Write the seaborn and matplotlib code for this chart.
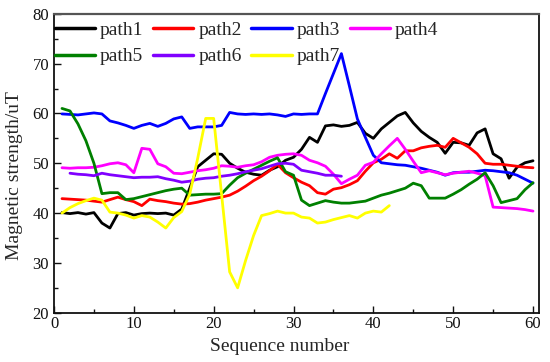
import matplotlib
matplotlib.use("Agg")
import matplotlib.pyplot as plt
import numpy as np
import pandas as pd
import seaborn as sns
from matplotlib.ticker import MultipleLocator

path1 = [40.1, 39.9, 40.1, 39.8, 40.1, 38.0, 37.0, 39.9, 40.1, 39.6,
         39.9, 40.0, 39.9, 40.0, 39.6, 40.8, 45.0, 49.3, 50.6, 51.9,
         51.8, 50.0, 49.0, 48.2, 47.8, 47.6, 48.6, 49.3, 50.6, 51.2,
         52.8, 55.2, 54.2, 57.5, 57.7, 57.4, 57.6, 58.2, 56.0, 55.0,
         56.9, 58.2, 59.5, 60.2, 58.1, 56.4, 55.2, 54.2, 52.0, 54.2,
         54.1, 53.6, 56.1, 56.9, 51.9, 50.9, 47.0, 49.2, 50.1, 50.5]
path2 = [42.9, 42.8, 42.7, 42.6, 42.4, 42.2, 42.7, 43.2, 42.7, 42.3,
         41.5, 42.8, 42.5, 42.3, 42.0, 41.8, 41.9, 42.2, 42.6, 42.9,
         43.2, 43.6, 44.4, 45.4, 46.5, 47.4, 48.5, 49.8, 48.1, 47.1,
         46.2, 45.5, 44.1, 43.8, 44.8, 45.1, 45.7, 46.5, 48.4, 50.1,
         50.8, 51.9, 51.0, 52.5, 52.5, 53.1, 53.4, 53.6, 53.2, 55.0,
         54.1, 53.2, 51.9, 50.0, 49.8, 49.8, 49.6, 49.4, 49.2, 49.1]
path3 = [59.9, 59.8, 59.7, 59.9, 60.1, 59.9, 58.5, 58.1, 57.6, 57.0,
         57.6, 58.0, 57.4, 58.0, 58.9, 59.3, 57.0, 57.3, 57.3, 57.3,
         57.6, 60.2, 59.9, 59.8, 59.9, 59.8, 59.9, 59.7, 59.4, 59.9,
         59.8, 59.9, 59.9, 64.0, 68.0, 72.0, 65.5, 58.9, 55.2, 51.6,
         50.1, 49.9, 49.7, 49.6, 49.3, 49.0, 48.6, 48.2, 47.6, 48.1,
         48.2, 48.2, 48.4, 48.6, 48.5, 48.3, 48.1, 47.6, 46.8, 46.0]
path4 = [49.1, 49.0, 49.1, 49.1, 49.2, 49.5, 49.9, 50.1, 49.7, 48.1,
         53.0, 52.8, 49.9, 49.3, 48.0, 47.9, 48.2, 48.5, 48.7, 49.0,
         49.5, 49.4, 49.2, 49.5, 49.7, 50.3, 51.2, 51.6, 51.8, 51.9,
         51.6, 50.6, 50.1, 49.4, 47.8, 45.9, 46.8, 47.6, 49.6, 50.2,
         51.9, 53.5, 55.0, 52.8, 50.4, 48.1, 48.5, 48.1, 47.7, 48.0,
         48.2, 48.4, 48.0, 47.5, 41.2, 41.1, 41.0, 40.9, 40.7, 40.4]
path5 = [61.0, 60.5, 57.9, 54.5, 50.0, 43.9, 44.1, 44.1, 42.7, 42.9,
         43.3, 43.7, 44.1, 44.5, 44.8, 45.0, 43.6, 43.7, 43.8, 43.8,
         43.9, 45.6, 47.1, 48.0, 48.8, 49.6, 50.4, 51.1, 48.3, 47.6,
         42.6, 41.5, 42.0, 42.5, 42.2, 42.0, 42.0, 42.2, 42.4, 43.0,
         43.6, 44.0, 44.5, 45.0, 46.0, 45.5, 43.0, 43.0, 43.0, 43.8,
         44.7, 45.8, 46.8, 48.1, 45.5, 42.1, 42.5, 42.9, 44.7, 46.1]
# path6 starts at sequence 2
path6 = [48.0, 47.8, 47.7, 47.5, 48.0, 47.7, 47.5, 47.3, 47.1,
         47.2, 47.2, 47.3, 46.9, 46.6, 46.2, 46.4, 46.8, 47.0, 47.1,
         47.4, 47.6, 47.9, 48.3, 48.6, 48.9, 49.4, 49.9, 50.0, 49.8,
         48.6, 48.3, 48.0, 47.6, 47.6, 47.4]
path7 = [40.0, 41.1, 41.9, 42.5, 43.0, 42.6, 40.2, 40.0, 39.6, 39.0,
         39.5, 39.2, 38.2, 37.0, 39.1, 40.3, 43.8, 51.0, 59.0, 59.0,
         43.6, 28.2, 25.0, 30.5, 35.5, 39.5, 39.9, 40.4, 40.0, 40.0,
         39.2, 39.0, 38.0, 38.2, 38.7, 39.1, 39.5, 39.0, 40.0, 40.4,
         40.2, 41.5]

names = ["path1", "path2", "path3", "path4", "path5", "path6", "path7"]
starts = [1, 1, 1, 1, 1, 2, 1]
colors = ["#000000", "#ff0000", "#0000ff", "#ff00ff", "#008000", "#8000ff", "#ffff00"]

frames = []
for name, start, vals in zip(names, starts, [path1, path2, path3, path4, path5, path6, path7]):
    frames.append(pd.DataFrame({"seq": np.arange(start, start + len(vals)),
                                "value": vals, "path": name}))
df = pd.concat(frames, ignore_index=True)

sns.set_style("ticks")
plt.rcParams["font.family"] = ["Liberation Serif", "DejaVu Serif"]

fig = plt.figure(figsize=(5.5, 3.62), dpi=100)
ax = fig.add_axes([0.0982, 0.136, 0.8818, 0.826])

sns.lineplot(data=df, x="seq", y="value", hue="path", hue_order=names,
             palette=colors, linewidth=2.0, ax=ax, legend=True)

ax.set_xlim(0, 60.75)
ax.set_ylim(20, 80)
ax.xaxis.set_major_locator(MultipleLocator(10))
ax.xaxis.set_minor_locator(MultipleLocator(5))
ax.yaxis.set_major_locator(MultipleLocator(10))
ax.yaxis.set_minor_locator(MultipleLocator(5))
ax.tick_params(which="both", direction="in", top=False, right=False,
               labelsize=12, width=1.0, colors="#111111")
ax.tick_params(which="major", length=5)
ax.tick_params(which="minor", length=3)
ax.tick_params(axis="x", pad=2)
ax.set_xlabel("Sequence number", fontsize=14)
ax.set_ylabel("Magnetic strength/uT", fontsize=14)
ax.xaxis.set_label_coords(0.465, -0.085)
ax.yaxis.set_label_coords(-0.064, 0.458)

for side in ["left", "bottom", "right"]:
    ax.spines[side].set_color("#111111")
    ax.spines[side].set_linewidth(1.3)
ax.spines["top"].set_color("#555555")
ax.spines["top"].set_linewidth(1.6)

handles, labels = ax.get_legend_handles_labels()
lookup = dict(zip(labels, handles))
order = ["path1", "path5", "path2", "path6", "path3", "path7", "path4"]
leg = ax.legend([lookup[k] for k in order], order, ncol=4, loc="upper left",
                bbox_to_anchor=(-0.0144, 1.002), frameon=False, fontsize=14,
                handlelength=2.06, handletextpad=0.26, columnspacing=0.5,
                labelspacing=0.48, borderaxespad=0.0)
for line in leg.get_lines():
    line.set_linewidth(2.5)

fig.savefig("out.png", dpi=100)
